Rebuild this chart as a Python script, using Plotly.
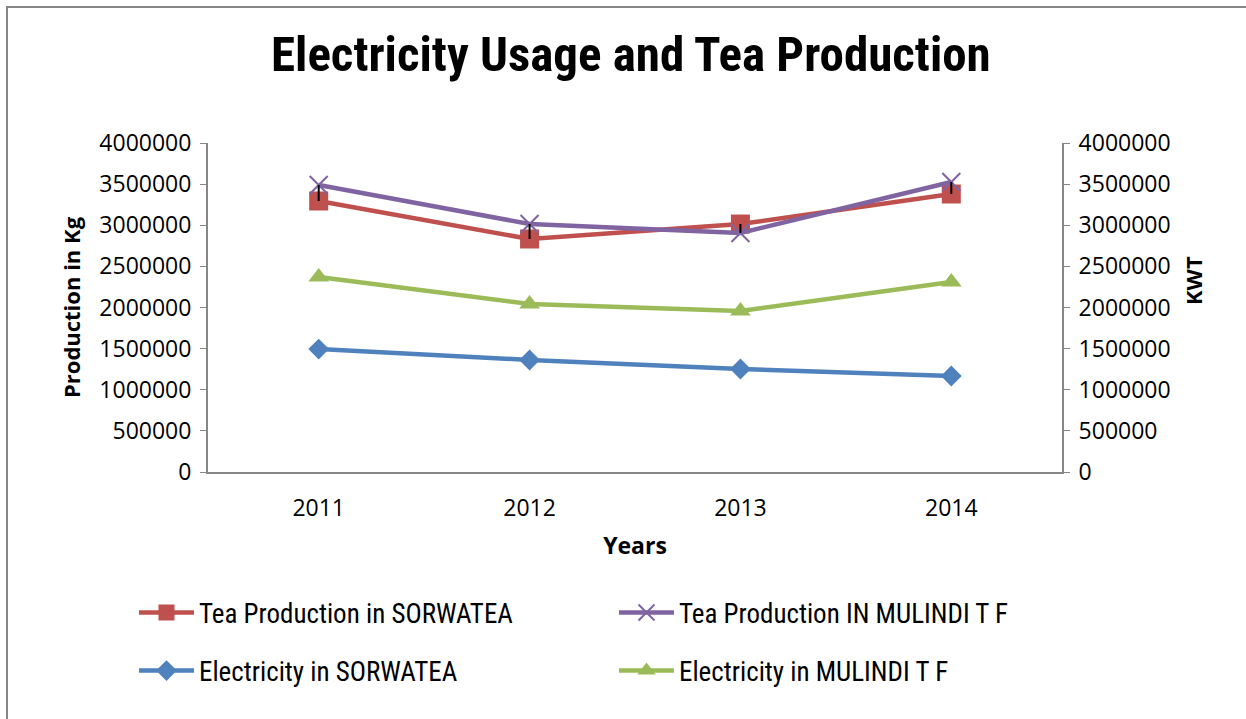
import plotly.graph_objects as go

years = ["2011", "2012", "2013", "2014"]
tea_sorwatea = [3295000, 2833000, 3015000, 3380000]
tea_mulindi = [3489000, 3015000, 2906000, 3526000]
elec_sorwatea = [1495000, 1362000, 1252000, 1167000]
elec_mulindi = [2371000, 2043000, 1957000, 2310000]
y_ticks = [0, 500000, 1000000, 1500000, 2000000, 2500000, 3000000, 3500000, 4000000]

RED = "#C0504D"
PURPLE = "#8064A2"
BLUE = "#4F81BD"
GREEN = "#9BBB59"
AXIS = "#868686"
NARROW = "Liberation Sans Narrow, Arial Narrow, Roboto Condensed, sans-serif"
TICKF = "Open Sans, Roboto, sans-serif"
BOLDF = "Open Sans, Roboto, sans-serif"

W, H = 1246, 719
L, R, T, B = 208, 184, 143, 247
pw, ph = W - L - R, H - T - B

def px(x):
    return (x - L) / pw

def py(y):
    return (H - B - y) / ph

fig = go.Figure()

fig.add_trace(go.Scatter(
    x=years, y=tea_sorwatea, name="Tea Production in SORWATEA",
    mode="lines+markers", line=dict(color=RED, width=4.5),
    marker=dict(symbol="square", size=19, color=RED), legend="legend"))
fig.add_trace(go.Scatter(
    x=years, y=tea_mulindi, name="Tea Production IN MULINDI T F",
    mode="lines+markers", line=dict(color=PURPLE, width=4.5),
    marker=dict(symbol="x-thin", size=18, color=PURPLE,
                line=dict(color=PURPLE, width=2)), legend="legend2"))
fig.add_trace(go.Scatter(
    x=years, y=elec_sorwatea, name="Electricity in SORWATEA",
    mode="lines+markers", line=dict(color=BLUE, width=4.5),
    marker=dict(symbol="diamond", size=16, color=BLUE),
    yaxis="y2", legend="legend3"))
fig.add_trace(go.Scatter(
    x=years, y=elec_mulindi, name="Electricity in MULINDI T F",
    mode="lines+markers", line=dict(color=GREEN, width=4.5),
    marker=dict(symbol="triangle-up", size=18, color=GREEN),
    yaxis="y2", legend="legend4"))

# black connectors between the two tea production series
up = [max(m - s, 0) for s, m in zip(tea_sorwatea, tea_mulindi)]
down = [max(s - m, 0) for s, m in zip(tea_sorwatea, tea_mulindi)]
fig.add_trace(go.Scatter(
    x=years, y=tea_sorwatea, mode="markers", showlegend=False,
    marker=dict(size=1, color="rgba(0,0,0,0)"), hoverinfo="skip",
    error_y=dict(type="data", symmetric=False, array=up, arrayminus=down,
                 color="black", thickness=2, width=0)))

axis_common = dict(
    range=[0, 4000000], tickvals=y_ticks, tickformat="d",
    showgrid=False, zeroline=False, showline=True, linecolor=AXIS,
    linewidth=2, ticks="outside", ticklen=6, tickcolor=AXIS,
    tickfont=dict(family=TICKF, size=23, color="black"))

def legend_at(x, y):
    return dict(orientation="h", x=px(x), y=py(y), yanchor="middle",
                xanchor="left", itemwidth=55,
                font=dict(family=NARROW, size=27, color="black"),
                bgcolor="rgba(0,0,0,0)")

fig.update_layout(
    width=W, height=H,
    margin=dict(l=L, r=R, t=T, b=B),
    paper_bgcolor="white", plot_bgcolor="white",
    showlegend=True,
    xaxis=dict(range=[-0.525, 3.525], showgrid=False, showline=True,
               linecolor=AXIS, linewidth=2, ticks="",
               tickfont=dict(family=TICKF, size=23, color="black"),
               ticklabelstandoff=14,
               title=dict(text="<b>Years</b>", standoff=16,
                          font=dict(family=BOLDF, size=23, color="black"))),
    yaxis=dict(**axis_common, ticklabelstandoff=4,
               title=dict(text="<b>Production in Kg</b>", standoff=13,
                          font=dict(family=BOLDF, size=22, color="black"))),
    yaxis2=dict(**axis_common, overlaying="y", side="right",
                ticklabelstandoff=4),
    legend=legend_at(134, 613),
    legend2=legend_at(614, 613),
    legend3=legend_at(134, 671),
    legend4=legend_at(614, 671),
    annotations=[
        dict(text="<b>Electricity Usage and Tea Production</b>",
             xref="paper", yref="paper", x=px(631), y=py(55),
             xanchor="center", yanchor="middle", showarrow=False,
             font=dict(family=NARROW, size=49, color="black")),
        dict(text="<b>KWT</b>", xref="paper", yref="paper",
             x=px(1193), y=py(281), xanchor="center", yanchor="middle",
             textangle=-90, showarrow=False,
             font=dict(family=BOLDF, size=22, color="black")),
    ],
    shapes=[dict(type="rect", xref="paper", yref="paper",
                 x0=px(7), y0=py(730), x1=px(1260), y1=py(7),
                 line=dict(color=AXIS, width=2), layer="below")],
)

fig.write_html("out.html")
